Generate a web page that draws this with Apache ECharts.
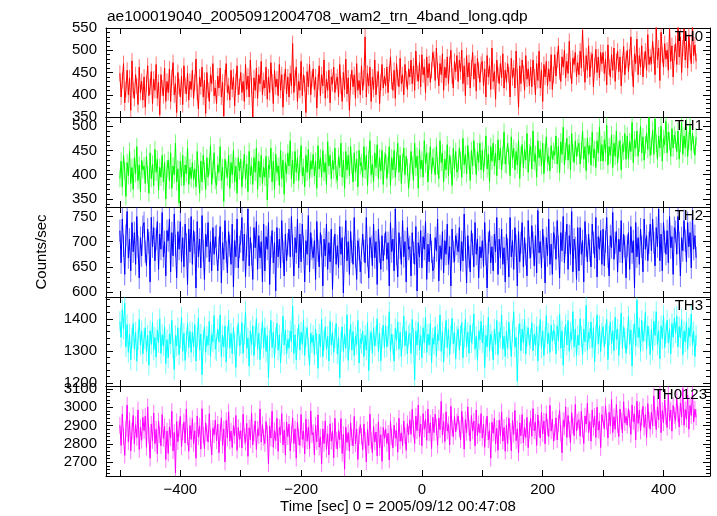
<!DOCTYPE html>
<html><head><meta charset="utf-8">
<script src="https://cdn.jsdelivr.net/npm/echarts@6/dist/echarts.min.js"></script>
<style>html,body{margin:0;padding:0;background:#fff}#c{width:717px;height:516px}</style>
</head><body><div id="c"></div>
<script>
// time bins: first bin time and bin width (seconds)
const T_START = -500;
const T_BIN = 2;

const th0 = [
448,395,432,470,382,412,455,400,438,365,476,410,392,445,420,378,462,405,430,388,
440,372,425,465,398,418,452,380,435,410,468,392,428,355,445,415,398,460,385,430,
405,458,385,438,472,400,425,360,450,418,395,442,378,465,420,402,448,388,430,412,
455,392,428,480,405,368,440,418,462,395,432,358,450,410,385,445,425,470,398,415,
380,442,415,460,395,428,352,438,470,405,420,388,455,412,440,375,430,465,400,418,
450,405,430,385,468,412,442,395,478,420,350,438,410,460,392,445,425,475,400,432,
415,462,390,440,405,472,428,380,455,418,435,398,468,410,445,372,430,458,402,440,
395,448,420,515,405,438,462,385,430,410,475,398,445,425,360,452,418,468,400,435,
458,412,440,370,428,465,398,445,420,478,392,435,410,455,382,440,425,462,405,430,
440,395,468,420,385,450,412,480,402,438,365,428,455,418,445,392,470,410,432,400,
465,410,438,530,395,448,420,462,385,440,412,478,400,435,452,380,428,468,415,442,
420,462,405,448,485,430,410,455,392,470,438,418,482,425,445,400,468,435,412,458,
440,478,425,465,410,498,448,430,472,418,490,445,462,405,485,438,470,428,455,495,
480,432,505,455,420,470,445,492,410,462,438,485,425,468,500,442,415,475,452,488,
430,478,452,500,425,465,398,488,440,472,415,460,495,435,470,408,482,455,428,468,
475,420,458,395,488,440,465,412,505,430,452,390,478,445,425,470,438,492,415,455,
428,470,445,395,482,438,460,415,498,440,372,465,425,478,448,410,488,435,458,420,
462,418,478,440,400,470,432,498,415,455,385,468,440,475,420,458,430,490,412,445,
490,442,478,510,452,430,485,462,500,438,475,448,520,455,425,482,468,495,440,472,
445,498,460,545,470,428,488,455,510,440,478,492,418,465,502,450,485,438,495,470,
495,448,480,422,512,462,440,490,455,505,430,475,498,452,485,420,468,508,445,478,
500,452,485,530,460,418,492,470,525,445,488,462,510,440,478,498,455,535,468,485,
470,520,488,445,552,478,505,432,540,490,462,515,480,500,455,548,475,510,440,495,
515,468,555,485,530,450,505,548,478,520,460,535,495,470,558,488,512,475
];
const th1 = [
392,428,375,440,408,355,425,398,448,382,415,370,435,402,458,388,420,365,430,410,
418,382,438,400,362,445,392,422,378,452,405,432,368,415,395,440,385,425,350,412,
430,388,445,372,418,400,465,385,412,342,428,395,440,378,420,402,455,380,415,392,
425,390,412,375,448,402,362,428,385,440,408,370,435,395,418,460,380,410,445,388,
378,420,405,458,388,415,345,432,410,395,440,372,425,400,450,385,418,362,435,408,
432,375,410,442,390,422,365,448,398,418,380,435,405,455,370,428,395,440,382,415,
395,438,348,420,412,455,385,428,370,442,405,418,378,450,392,430,360,425,402,445,
418,470,392,430,382,448,405,435,388,422,460,398,415,375,440,405,452,392,428,412,
442,398,428,372,460,412,435,395,450,405,425,380,468,418,440,392,430,410,455,400,
388,438,415,465,395,430,372,448,410,440,398,458,420,385,445,405,432,375,450,418,
425,395,458,410,440,378,432,470,400,422,385,445,415,462,392,435,408,450,380,428,
442,392,420,458,378,435,410,450,395,428,465,405,440,382,425,455,400,438,415,372,
405,448,420,388,465,415,438,372,452,412,430,395,470,422,445,385,428,458,402,435,
438,400,458,418,392,470,425,445,385,432,410,462,398,440,420,378,455,412,448,405,
412,455,430,395,475,420,442,402,460,428,388,450,418,470,435,400,448,425,465,410,
450,405,435,480,412,442,385,458,428,465,418,445,398,472,430,455,410,440,488,422,
420,465,438,398,478,432,455,410,448,420,470,392,440,462,415,452,430,485,405,445,
458,412,490,428,442,395,470,435,452,418,465,402,445,478,425,438,408,460,432,448,
440,480,422,458,404,468,442,498,420,448,475,430,462,410,485,445,425,470,438,455,
465,422,450,490,432,458,408,475,442,460,420,488,435,452,415,470,445,498,428,462,
428,472,445,502,420,458,440,482,415,465,438,490,425,452,470,410,462,448,485,432,
480,432,468,448,508,425,472,455,490,438,465,500,445,478,430,462,485,452,518,440,
458,492,442,515,465,432,480,455,500,428,475,462,510,445,488,470,438,495,455,482,
472,448,490,432,465,508,442,480,455,498,438,470,505,450,485,462,440,478
];
const th2 = [
722,658,745,692,635,712,760,668,705,642,738,680,718,655,750,690,628,708,672,730,
738,680,652,725,698,620,748,690,728,662,705,740,645,715,685,758,670,700,632,722,
702,745,640,718,672,755,692,628,720,685,740,660,708,650,735,695,615,725,680,750,
655,722,698,608,740,670,705,648,752,682,625,715,690,738,660,700,642,728,675,710,
712,642,688,730,618,698,665,742,680,638,720,692,655,735,610,702,670,745,648,690,
700,748,662,715,630,692,765,652,708,675,625,728,688,740,645,712,668,700,620,735,
642,710,685,738,615,690,722,658,698,602,728,670,705,648,742,680,632,715,662,695,
725,670,750,692,632,708,678,745,648,715,660,735,690,620,702,675,752,640,718,685,
668,702,625,740,682,650,718,692,612,705,672,735,645,698,660,725,605,688,715,655,
692,648,730,675,708,598,688,742,662,700,635,720,680,655,748,670,625,702,685,640,
638,715,682,658,748,672,628,708,690,652,735,668,700,615,725,680,645,712,662,695,
720,665,698,612,738,680,705,642,765,675,630,718,688,655,742,670,700,620,728,685,
690,632,718,678,655,730,602,698,670,722,648,710,685,740,625,695,660,715,680,642,
648,708,682,745,622,692,665,720,638,702,675,735,655,690,612,725,680,660,712,695,
680,728,642,700,662,755,688,618,712,670,640,722,695,650,738,675,705,628,690,668,
702,650,738,675,608,698,722,658,690,642,715,680,748,635,705,668,725,655,688,620,
715,685,630,748,670,702,645,728,692,612,720,660,698,738,650,708,675,632,742,688,
668,732,698,652,712,638,762,678,700,648,725,690,618,708,672,745,655,695,635,718,
708,665,742,690,628,718,682,750,658,698,735,645,712,675,760,640,705,688,625,728,
642,728,675,702,620,740,692,660,715,682,650,735,698,668,748,630,710,685,722,655,
725,652,700,748,670,632,712,688,758,665,698,720,640,705,680,742,658,715,690,628,
692,718,645,730,678,702,608,738,670,708,655,725,690,640,745,685,712,662,698,735,
682,745,698,652,728,690,765,662,715,642,738,700,675,722,658,750,688,710,635,728,
720,675,750,698,632,708,682,742,702,660,738,690,718,648,755,685,712,668
];
const th3 = [
1392,1342,1428,1368,1448,1312,1382,1295,1352,1272,1340,1385,1305,1358,1268,1335,1398,1318,1362,1290,
1338,1372,1298,1348,1255,1362,1320,1388,1302,1342,1280,1365,1325,1400,1292,1350,1315,1375,1260,1335,
1278,1352,1322,1395,1308,1242,1348,1315,1372,1288,1340,1405,1298,1355,1270,1330,1385,1310,1360,1295,
1358,1312,1382,1268,1340,1402,1302,1352,1225,1332,1375,1295,1345,1318,1392,1282,1350,1328,1410,1305,
1300,1368,1328,1412,1282,1348,1312,1378,1265,1342,1395,1308,1355,1290,1372,1322,1248,1345,1385,1315,
1322,1388,1292,1352,1422,1308,1340,1252,1362,1318,1378,1285,1345,1400,1305,1355,1272,1338,1392,1310,
1372,1298,1348,1215,1332,1395,1310,1358,1278,1342,1385,1302,1350,1262,1325,1408,1318,1365,1290,1335,
1308,1362,1328,1440,1292,1350,1272,1338,1382,1302,1358,1320,1395,1285,1345,1372,1310,1255,1355,1325,
1348,1288,1368,1322,1245,1352,1312,1398,1282,1332,1375,1305,1345,1268,1392,1318,1358,1295,1340,1385,
1290,1342,1215,1328,1375,1298,1352,1308,1412,1270,1335,1382,1302,1360,1285,1345,1320,1395,1262,1338,
1322,1362,1282,1348,1302,1388,1238,1332,1358,1292,1372,1315,1345,1400,1298,1355,1268,1340,1380,1310,
1378,1312,1345,1422,1298,1352,1320,1268,1370,1332,1390,1305,1358,1282,1342,1408,1315,1362,1290,1348,
1355,1292,1398,1338,1210,1362,1318,1388,1302,1348,1278,1372,1325,1405,1295,1352,1318,1385,1262,1340,
1320,1375,1282,1352,1332,1412,1298,1360,1265,1342,1395,1310,1368,1288,1348,1402,1322,1358,1275,1345,
1368,1302,1348,1388,1278,1340,1398,1312,1358,1292,1380,1325,1352,1415,1305,1345,1270,1362,1335,1392,
1325,1380,1248,1348,1312,1405,1300,1352,1330,1272,1368,1320,1395,1288,1358,1340,1412,1305,1345,1282,
1362,1308,1390,1335,1282,1358,1422,1312,1342,1205,1352,1385,1300,1368,1325,1398,1290,1345,1372,1318,
1338,1388,1300,1352,1315,1375,1268,1348,1398,1308,1362,1285,1342,1410,1322,1355,1295,1380,1330,1365,
1352,1290,1378,1332,1415,1308,1362,1255,1342,1382,1318,1395,1298,1358,1335,1422,1312,1368,1285,1348,
1318,1400,1345,1288,1368,1328,1442,1302,1358,1338,1390,1310,1372,1265,1348,1412,1322,1378,1298,1355,
1375,1312,1352,1398,1272,1348,1390,1322,1362,1300,1405,1335,1368,1285,1352,1418,1308,1375,1340,1292,
1338,1408,1320,1365,1252,1352,1385,1315,1458,1342,1372,1298,1395,1330,1360,1420,1305,1378,1345,1288,
1368,1302,1392,1348,1422,1320,1362,1275,1378,1338,1410,1310,1355,1395,1325,1368,1290,1385,1342,1402,
1355,1408,1312,1375,1340,1398,1288,1362,1328,1390,1305,1372,1345,1415,1318,1360,1282,1348
];
const th0123 = [
2902,2792,2962,2842,2738,2882,3012,2812,2928,2762,2870,2955,2800,2905,2835,2985,2770,2890,2820,2945,
2872,2952,2782,3002,2848,2722,2908,2818,2968,2802,2880,2745,2925,2850,2790,2960,2830,2895,2715,2870,
2748,2892,2832,2978,2762,2862,2642,2922,2812,2882,2950,2785,2865,2920,2805,2990,2840,2760,2900,2825,
2938,2802,2872,2722,2952,2838,2898,2772,2992,2848,2775,2915,2860,2810,2965,2830,2740,2885,2850,2930,
2818,2908,2752,2862,2942,2792,2882,2702,2928,2832,2975,2815,2870,2780,2900,2845,2955,2765,2890,2825,
2872,2778,2962,2842,2808,2912,2732,2888,2822,2968,2795,2860,2925,2770,2880,2845,2990,2810,2905,2835,
2802,2922,2858,2692,2898,2832,2978,2782,2872,2818,2940,2760,2890,2850,2965,2795,2875,2740,2920,2840,
2908,2762,2852,2942,2802,2882,2722,2918,2838,2792,2960,2825,2870,2745,2935,2815,2890,2775,2980,2850,
2862,2742,2902,2812,2958,2782,2838,2692,2882,2802,2925,2770,2855,2740,2910,2815,2870,2725,2940,2820,
2772,2872,2822,2938,2748,2852,2662,2892,2808,2862,2760,2915,2835,2790,2950,2800,2880,2715,2845,2905,
2842,2768,2908,2822,2702,2878,2792,2962,2818,2752,2895,2810,2865,2735,2920,2780,2850,2705,2890,2830,
2882,2802,2858,2712,2922,2838,2778,2902,2832,2872,2755,2940,2815,2860,2790,2925,2845,2765,2910,2850,
2932,2852,2988,2882,2802,2952,2872,3012,2838,2908,2790,2965,2880,2935,2820,2990,2860,2915,2775,2945,
2862,2962,2892,2792,2942,2878,3032,2848,2922,2812,2975,2870,2905,2795,3005,2885,2840,2950,2865,2920,
2952,2882,2822,2978,2902,2772,2932,2862,3002,2888,2815,2955,2870,2925,2790,2985,2845,2910,2860,2965,
2832,2908,2782,2892,2952,2822,2872,2722,2918,2858,2940,2800,2885,2765,2930,2845,2975,2815,2890,2760,
2902,2802,2942,2868,2762,2928,2852,2982,2818,2882,2750,2915,2845,2960,2805,2890,2835,2945,2780,2875,
2938,2842,2992,2872,2918,2792,2958,2882,2832,2972,2855,2925,2800,2965,2890,2840,3010,2870,2935,2815,
2862,2942,2822,2912,2982,2858,2752,2928,2892,3002,2835,2955,2880,2805,2970,2900,2845,3015,2870,2920,
2932,2842,2978,2882,2802,2952,2908,3022,2862,2922,2815,2985,2890,2950,2835,3000,2875,2925,2780,2960,
2962,2882,3008,2922,2832,2972,2898,3042,2862,2948,2880,3015,2905,2840,2990,2925,2860,3030,2915,2950,
2902,2992,2938,2852,3012,2922,2962,2822,3032,2912,2985,2870,2945,3005,2890,2960,2835,3020,2930,2880,
2972,2898,3062,2942,2878,3002,2932,3092,2862,2982,2915,3040,2950,2890,3070,2925,2985,2870,3010,2955,
2928,3052,2962,2892,3022,2948,3102,2902,2988,2935,3065,2880,3010,2955,3085,2920,2990,2945
];
// typical 1-sigma error per bin (counts/sec), estimated from the error bars
const th0Err = 18, th1Err = 18, th2Err = 22, th3Err = 32, th0123Err = 45;

const panelNames = ['TH0', 'TH1', 'TH2', 'TH3', 'TH0123'];
const panelSeries = [th0, th1, th2, th3, th0123];
const panelErr = [th0Err, th1Err, th2Err, th3Err, th0123Err];
const yMin = [350, 333.5, 590, 1190, 2625];
const yMax = [550, 519, 769, 1468, 3116];
const yStep = [50, 50, 50, 100, 100];
const xMin = -523, xMax = 477;
const xLabelStep = 200;
const titleText = 'ae100019040_20050912004708_wam2_trn_4band_long.qdp';
const xTitle = 'Time [sec] 0 = 2005/09/12 00:47:08';
const yTitle = 'Counts/sec';

// styling (kept apart from data)
const colors = ['#ff0000', '#00ff00', '#0000ff', '#00ffff', '#ff00ff'];
const errColors = ['rgba(255,0,0,0.55)', 'rgba(0,255,0,0.55)', 'rgba(0,0,255,0.55)', 'rgba(0,255,255,0.55)', 'rgba(255,0,255,0.55)'];
const FONT = '"Liberation Sans", Arial, Helvetica, sans-serif';
const tops = [28, 117, 207, 297, 386];
const heights = [89, 90, 90, 89, 90];
const ySplit = [4, 4, 4, 3, 5];
const labelRight = [703, 703, 703, 703, 707];

const grids = [], xAxes = [], yAxes = [], series = [], graphics = [];
const fmtNum = v => (v < 0 ? '\u2212' + Math.abs(v) : String(v));
panelSeries.forEach((vals, i) => {
  grids.push({ left: 106, right: 7, top: tops[i], height: heights[i] });
  const isLast = i === panelSeries.length - 1;
  ['bottom', 'top'].forEach((pos) => {
    xAxes.push({
      type: 'value', gridIndex: i, position: pos, min: xMin, max: xMax, splitNumber: 10,
      axisLine: { show: true, onZero: false, lineStyle: { color: '#000', width: 1 } },
      axisTick: { show: true, inside: true, length: 6, lineStyle: { color: '#000' } },
      splitLine: { show: false },
      axisLabel: {
        show: isLast && pos === 'bottom', margin: 6, color: '#000', fontSize: 15, fontFamily: FONT,
        formatter: v => (Math.round(v) % xLabelStep === 0 ? fmtNum(Math.round(v)) : '')
      }
    });
  });
  ['left', 'right'].forEach((pos) => {
    const step = yStep[i];
    yAxes.push({
      type: 'value', gridIndex: i, position: pos, min: yMin[i], max: yMax[i], splitNumber: ySplit[i],
      axisLine: { show: true, onZero: false, lineStyle: { color: '#000', width: 1 } },
      axisTick: { show: true, inside: true, length: 7, lineStyle: { color: '#000' } },
      minorTick: { show: true, splitNumber: 5, length: 4, lineStyle: { color: '#000' } },
      splitLine: { show: false }, minorSplitLine: { show: false },
      axisLabel: {
        show: pos === 'left', margin: 9, color: '#000', fontSize: 15, fontFamily: FONT,
        showMinLabel: true, showMaxLabel: true,
        formatter: v => (Math.abs(v / step - Math.round(v / step)) < 1e-6 ? String(Math.round(v)) : '')
      }
    });
  });
  const pts = vals.map((v, k) => [T_START + k * T_BIN, v]);
  const err = panelErr[i];
  series.push({
    type: 'custom', xAxisIndex: 2 * i, yAxisIndex: 2 * i, data: pts, silent: true, clip: true, z: 1,
    renderItem: (params, api) => {
      const x = api.value(0), y = api.value(1);
      const a = api.coord([x, y - err]), b = api.coord([x, y + err]);
      return { type: 'line', shape: { x1: a[0], y1: a[1], x2: b[0], y2: b[1] },
               style: { stroke: errColors[i], lineWidth: 1 } };
    }
  });
  series.push({
    type: 'line', xAxisIndex: 2 * i, yAxisIndex: 2 * i, data: pts, z: 2,
    symbol: 'none', showSymbol: false, silent: true,
    lineStyle: { color: colors[i], width: 1 }, itemStyle: { color: colors[i] },
    clip: true
  });
  graphics.push({
    type: 'text', right: 717 - labelRight[i], top: tops[i] + 1,
    style: { text: panelNames[i], font: '15px ' + FONT, fill: '#000' }, z: 100
  });
});

graphics.push({
  type: 'text', x: 42, y: 252, rotation: Math.PI / 2,
  style: { text: yTitle, font: '15px ' + FONT, fill: '#000', align: 'center', verticalAlign: 'middle' }
});
graphics.push({
  type: 'text', x: 398, y: 507,
  style: { text: xTitle, font: '15px ' + FONT, fill: '#000', align: 'center', verticalAlign: 'middle' }
});

const chart = echarts.init(document.getElementById('c'), null, { renderer: 'canvas' });
chart.setOption({
  animation: false,
  backgroundColor: '#fff',
  title: { text: titleText, left: 102, top: 4, textStyle: { fontSize: 15.5, fontWeight: 'normal', fontFamily: FONT, color: '#000' } },
  grid: grids, xAxis: xAxes, yAxis: yAxes, series: series,
  graphic: graphics
});
</script></body></html>
